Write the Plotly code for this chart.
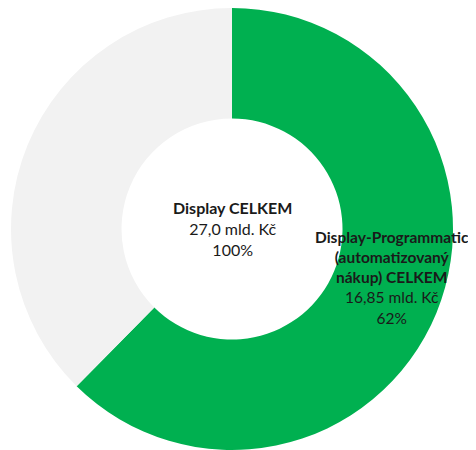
import plotly.graph_objects as go

# values in mld. Kč
total_label = "Display CELKEM"
total_value = 27.0
slice_labels = ["Display-Programmatic (automatizovaný nákup) CELKEM", "Ostatní"]
slice_values = [16.85, 10.15]
slice_colors = ["#00B050", "#F2F2F2"]

FONT = "Lato, 'Open Sans', sans-serif"

# the page body adds an 8px offset, so positions are pulled back by that much
fig = go.Figure(
    go.Pie(
        labels=slice_labels,
        values=slice_values,
        hole=0.5,
        sort=False,
        direction="clockwise",
        rotation=0,
        marker=dict(colors=slice_colors, line=dict(width=0)),
        textinfo="none",
        hoverinfo="label+value+percent",
        showlegend=False,
        domain=dict(x=[0.0063, 0.9349], y=[0.0178, 1.0]),
    )
)

share = round(slice_values[0] / total_value * 100)

fig.add_annotation(
    x=0.4706, y=0.5089, xref="paper", yref="paper",
    xanchor="center", yanchor="middle",
    text=f"<b>{total_label}</b><br>{total_value:.1f}".replace(".", ",")
    + " mld. Kč<br>100%",
    showarrow=False, align="center",
    font=dict(family=FONT, size=16, color="#1a1a1a"),
)
fig.add_annotation(
    x=0.8067, y=0.4022, xref="paper", yref="paper",
    xanchor="center", yanchor="middle",
    text="<b>Display-Programmatic<br>(automatizovaný<br>nákup) CELKEM</b><br>"
    + f"{slice_values[0]:.2f}".replace(".", ",") + f" mld. Kč<br>{share}%",
    showarrow=False, align="center",
    font=dict(family=FONT, size=15.5, color="#1a1a1a"),
)

fig.update_layout(
    width=476, height=450,
    margin=dict(l=0, r=0, t=0, b=0),
    paper_bgcolor="white",
    plot_bgcolor="white",
)

fig.write_html("out.html")
